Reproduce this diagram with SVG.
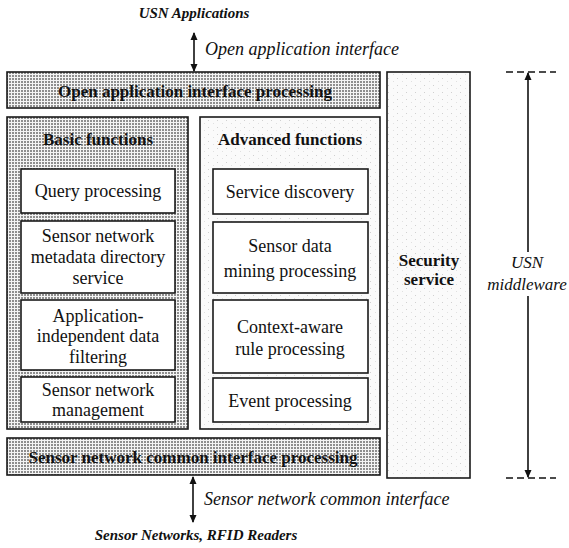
<svg xmlns="http://www.w3.org/2000/svg" width="569" height="548" viewBox="0 0 569 548" font-family="'Liberation Serif', 'DejaVu Serif', serif">
  <defs>
    <!-- halftone screen used by the processing bars and the basic-functions panel -->
    <pattern id="screen" width="3" height="3" patternUnits="userSpaceOnUse">
      <rect width="3" height="3" fill="#f4f4f4"/>
      <rect width="2" height="2" fill="#8e8e8e"/>
    </pattern>
    <!-- sparse speckle for the lighter panels -->
    <pattern id="speckle" width="9" height="7" patternUnits="userSpaceOnUse">
      <rect width="9" height="7" fill="#fafafa"/>
      <rect x="1" y="1" width="1" height="1" fill="#d0d0d0"/>
      <rect x="6" y="4" width="1" height="1" fill="#e0e0e0"/>
    </pattern>
    <marker id="head" viewBox="0 0 8 10" refX="7" refY="5" markerWidth="8" markerHeight="10" markerUnits="userSpaceOnUse" orient="auto-start-reverse">
      <path d="M0,1.5 L8,5 L0,8.5 Z" fill="#111"/>
    </marker>
  </defs>
  <style>
    .frame { stroke: #1a1a1a; stroke-width: 1.6; }
    .inner { fill: #ffffff; stroke: #1a1a1a; stroke-width: 1.6; }
    text { font-family: 'Liberation Serif', 'DejaVu Serif', serif; fill: #111; }
    .bold { font-weight: bold; font-size: 17px; text-anchor: middle; }
    .reg { font-size: 18px; text-anchor: middle; }
    .ital { font-style: italic; font-size: 18px; }
    .side { font-style: italic; font-size: 17px; text-anchor: middle; }
    .bi { font-style: italic; font-weight: bold; font-size: 15px; text-anchor: middle; }
    .conn { stroke: #111; stroke-width: 1.6; fill: none; }
    .dash { stroke: #111; stroke-width: 1.6; stroke-dasharray: 7 4; fill: none; }
  </style>

  <rect width="569" height="548" fill="#ffffff"/>

  <!-- outer labels -->
  <g id="usn-applications">
    <text class="bi" x="194" y="18">USN Applications</text>
  </g>
  <g id="sensor-networks">
    <text class="bi" x="196" y="540">Sensor Networks, RFID Readers</text>
  </g>

  <!-- open application interface processing bar -->
  <g id="open-app-processing">
    <rect class="frame" x="7" y="72" width="373" height="36" fill="url(#screen)"/>
    <text class="bold" x="195" y="97">Open application interface processing</text>
  </g>

  <!-- basic functions panel -->
  <g id="basic-functions">
    <rect class="frame" x="7" y="117" width="181" height="312" fill="url(#screen)"/>
    <text class="bold" x="98" y="145">Basic functions</text>
  </g>
  <g id="query-processing">
    <rect class="inner" x="21" y="169" width="154" height="44"/>
    <text class="reg" x="98" y="197">Query processing</text>
  </g>
  <g id="metadata-directory">
    <rect class="inner" x="21" y="221" width="154" height="72"/>
    <text class="reg" x="98" y="242">Sensor network</text>
    <text class="reg" x="98" y="263">metadata directory</text>
    <text class="reg" x="98" y="284">service</text>
  </g>
  <g id="data-filtering">
    <rect class="inner" x="21" y="300" width="154" height="70"/>
    <text class="reg" x="98" y="322">Application-</text>
    <text class="reg" x="98" y="342">independent data</text>
    <text class="reg" x="98" y="363">filtering</text>
  </g>
  <g id="network-management">
    <rect class="inner" x="21" y="377" width="154" height="45"/>
    <text class="reg" x="98" y="396">Sensor network</text>
    <text class="reg" x="98" y="416">management</text>
  </g>

  <!-- advanced functions panel -->
  <g id="advanced-functions">
    <rect class="frame" x="200" y="117" width="180" height="312" fill="url(#speckle)"/>
    <text class="bold" x="290" y="145">Advanced functions</text>
  </g>
  <g id="service-discovery">
    <rect class="inner" x="213" y="169" width="155" height="45"/>
    <text class="reg" x="290" y="198">Service discovery</text>
  </g>
  <g id="data-mining">
    <rect class="inner" x="213" y="222" width="155" height="71"/>
    <text class="reg" x="290" y="252">Sensor data</text>
    <text class="reg" x="290" y="277">mining processing</text>
  </g>
  <g id="context-aware">
    <rect class="inner" x="213" y="300" width="155" height="73"/>
    <text class="reg" x="290" y="333">Context-aware</text>
    <text class="reg" x="290" y="355">rule processing</text>
  </g>
  <g id="event-processing">
    <rect class="inner" x="213" y="378" width="155" height="44"/>
    <text class="reg" x="290" y="407">Event processing</text>
  </g>

  <!-- sensor network common interface processing bar -->
  <g id="common-interface-processing">
    <rect class="frame" x="7" y="438" width="373" height="37" fill="url(#screen)"/>
    <text class="bold" x="193" y="463">Sensor network common interface processing</text>
  </g>

  <!-- security service column -->
  <g id="security-service">
    <rect class="frame" x="387" y="72" width="83" height="406" fill="url(#speckle)"/>
    <text class="bold" x="429" y="266">Security</text>
    <text class="bold" x="429" y="285">service</text>
  </g>

  <!-- USN middleware extent -->
  <g id="usn-middleware">
    <text class="side" x="527" y="268">USN</text>
    <text class="side" x="527" y="290">middleware</text>
  </g>

  <!-- connectors -->
  <g id="connectors">
    <line class="conn" x1="194" y1="33" x2="194" y2="71" marker-start="url(#head)" marker-end="url(#head)"/>
    <text class="ital" x="205" y="55">Open application interface</text>
    <line class="conn" x1="193" y1="477" x2="193" y2="522" marker-start="url(#head)" marker-end="url(#head)"/>
    <text class="ital" x="204" y="505">Sensor network common interface</text>
    <line class="dash" x1="506" y1="72" x2="556" y2="72"/>
    <line class="dash" x1="506" y1="478" x2="556" y2="478"/>
    <line class="conn" x1="528" y1="252" x2="528" y2="73" marker-end="url(#head)"/>
    <line class="conn" x1="528" y1="296" x2="528" y2="477" marker-end="url(#head)"/>
  </g>
</svg>
